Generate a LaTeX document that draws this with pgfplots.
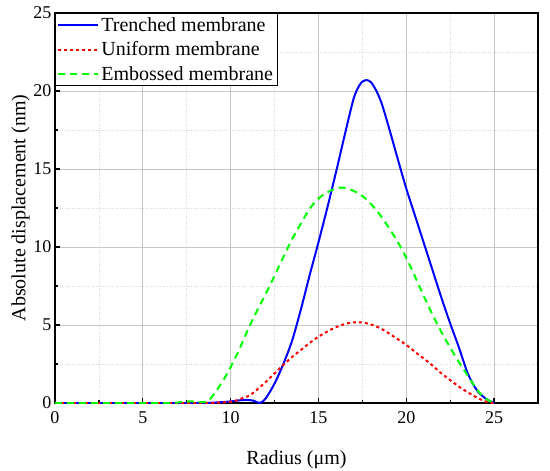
\documentclass[border=0pt]{standalone}
\usepackage{fontspec}
\setmainfont{Liberation Serif}
\usepackage{pgfplots}
\pgfplotsset{compat=1.18}
\begin{document}
\begin{tikzpicture}
\begin{axis}[
  name=ax,
  scale only axis,
  width=483bp, height=390bp,
  xmin=0, xmax=27.5, ymin=0, ymax=25,
  xtick={0,5,10,15,20,25}, ytick={0,5,10,15,20,25},
  minor x tick num=1, minor y tick num=1,
  tick pos=left,
  tick align=inside,
  major tick length=5bp, minor tick length=3bp,
  every tick/.style={black, line width=1.2bp},
  axis line style={black, line width=1.3bp},
  grid=both,
  major grid style={gray!45, line width=0.8bp},
  minor grid style={gray!30, dotted, line width=0.6bp},
  /pgf/number format/assume math mode=true,
  ticklabel style={font=\fontsize{18bp}{20bp}\selectfont},
  xticklabel style={yshift=-5bp},
  xlabel={Radius (μm)}, ylabel={Absolute displacement (nm)},
  label style={font=\fontsize{20bp}{22bp}\selectfont},
  xlabel style={yshift=-20bp},
  ylabel style={yshift=-3bp},
  legend style={at={(0,1)}, anchor=north west, draw=black, line width=0.8bp,
    font=\fontsize{20bp}{22bp}\selectfont, inner sep=2bp, row sep=5bp,
    cells={anchor=west}},
  legend image code/.code={\draw[#1] (0bp,0bp) -- (40bp,0bp);},
]
\addplot[color=blue, line width=2bp, smooth, tension=0.5] coordinates {
(0,0) (4,0) (8,0) (9,0.02) (10,0.1) (10.5,0.17) (10.9,0.2) (11.3,0.15) (11.67,0.0)
(12.0,0.3) (12.5,1.25) (13.0,2.5) (13.5,4.0) (14.0,6.0) (14.5,8.2) (15.0,10.3)
(15.5,12.5) (16.0,14.8) (16.5,17.2) (17.0,19.5) (17.3,20.3) (17.5,20.6) (17.75,20.7)
(18.0,20.55) (18.3,20.0) (18.6,19.2) (19.0,17.7) (19.5,15.7) (20.0,13.75) (20.5,12.0)
(21.0,10.25) (21.5,8.5) (22.0,6.75) (22.5,5.1) (23.0,3.55) (23.5,1.9) (24.0,0.85)
(24.5,0.3) (25,0)
};
\addlegendentry{Trenched membrane}
\addplot[color=red, line width=2bp, dash pattern=on 3bp off 3bp, smooth, tension=0.5] coordinates {
(0,0) (4,0) (8.5,0) (9.2,0.02) (9.7,0.05) (10.15,0.1) (10.6,0.28) (11.1,0.5) (11.6,0.95)
(12.0,1.35) (12.5,1.9) (13.0,2.44) (13.5,2.95) (14.0,3.4) (14.5,3.85) (15.0,4.25)
(15.66,4.68) (16.2,4.95) (16.7,5.12) (17.25,5.18) (17.7,5.12) (18.2,4.95) (18.7,4.68)
(19.3,4.25) (20.0,3.72) (20.7,3.1) (21.35,2.54) (22.0,1.9) (22.5,1.47) (23.0,1.05)
(23.6,0.62) (24.1,0.3) (24.5,0.1) (24.8,0.02) (25,0)
};
\addlegendentry{Uniform membrane}
\addplot[color=green, line width=2bp, dash pattern=on 7bp off 5bp, smooth, tension=0.5] coordinates {
(0,0) (4,0) (6.5,0) (7.3,0.08) (7.8,0.1) (8.3,0.05) (8.7,0.1) (9.0,0.5) (9.5,1.3)
(10.0,2.3) (10.5,3.45) (11.0,4.75) (11.5,5.9) (12.0,7.0) (12.5,8.15) (13.0,9.35)
(13.5,10.5) (14.0,11.5) (14.5,12.45) (15.0,13.1) (15.5,13.5) (16.0,13.75) (16.4,13.8)
(17.0,13.6) (17.56,13.22) (18.0,12.75) (18.51,12.05) (19.0,11.25) (19.5,10.35)
(20.0,9.3) (20.5,8.1) (21.0,6.85) (21.5,5.65) (22.0,4.55) (22.5,3.55) (23.0,2.62)
(23.5,1.75) (24.0,0.9) (24.5,0.3) (25,0)
};
\addlegendentry{Embossed membrane}
\end{axis}
\pgfresetboundingbox
\path ([xshift=-55bp,yshift=-68bp]ax.south west) rectangle ([xshift=12bp,yshift=13bp]ax.north east);
\end{tikzpicture}
\end{document}
